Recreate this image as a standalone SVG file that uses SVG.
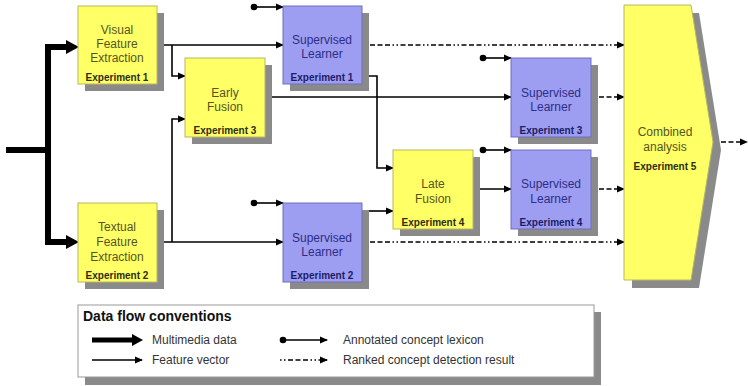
<svg xmlns="http://www.w3.org/2000/svg" width="748" height="386" viewBox="0 0 748 386">
<style>
.sh{fill:#8a8a8a}
.y{fill:#ffff66;stroke:#b8b860;stroke-width:1}
.b{fill:#9d9df2;stroke:#6e6ebd;stroke-width:1}
.ty{font-family:"Liberation Sans",Arial,sans-serif;font-size:12px;fill:#55551f;text-anchor:middle}
.tb{font-family:"Liberation Sans",Arial,sans-serif;font-size:12px;fill:#2e2e86;text-anchor:middle}
.ey{font-family:"Liberation Sans",Arial,sans-serif;font-size:10px;font-weight:bold;fill:#2d2d10;text-anchor:middle}
.eb{font-family:"Liberation Sans",Arial,sans-serif;font-size:10px;font-weight:bold;fill:#1c1c66;text-anchor:middle}
.fv{fill:none;stroke:#000;stroke-width:1.6;marker-end:url(#arr)}
.lx{fill:none;stroke:#000;stroke-width:1.6;marker-start:url(#dot);marker-end:url(#arr)}
.rk{fill:none;stroke:#000;stroke-width:1.6;stroke-dasharray:1.5 2.5 1.5 2.5 5 2.5 5 2.5 5 2.5;marker-end:url(#arr)}
.th{fill:none;stroke:#000;stroke-width:6}
.lg{font-family:"Liberation Sans",Arial,sans-serif;font-size:12px;fill:#333}
</style>
<defs>
<marker id="arr" markerUnits="userSpaceOnUse" markerWidth="8" markerHeight="8" refX="7" refY="4" orient="auto">
<path d="M0,0.5 L8,4 L0,7.5 z" fill="#000"/>
</marker>
<marker id="dot" markerUnits="userSpaceOnUse" markerWidth="8" markerHeight="8" refX="4" refY="4" orient="auto">
<circle cx="4" cy="4" r="3.3" fill="#000"/>
</marker>
</defs>

<g id="connectors">
<path class="th" d="M6,150 H48 V47 H68"/>
<polygon points="66,40 79,47 66,54" fill="#000"/>
<path class="th" d="M48,150 V242 H68"/>
<polygon points="66,235 79,242 66,249" fill="#000"/>
<path class="fv" d="M157,45 H283"/>
<path class="fv" d="M172,45 V76 H185"/>
<path class="fv" d="M157,242 H283"/>
<path class="fv" d="M172,242 V119 H185"/>
<path class="fv" d="M265,97 H511"/>
<path class="fv" d="M362,76 H377 V168 H393"/>
<path class="fv" d="M362,211 H393"/>
<path class="fv" d="M473,189 H511"/>
<path class="lx" d="M254,7 H283"/>
<path class="lx" d="M254,203 H283"/>
<path class="lx" d="M483,58 H511"/>
<path class="lx" d="M483,150 H511"/>
<path class="rk" d="M362,45 H624"/>
<path class="rk" d="M591,97 H624"/>
<path class="rk" d="M591,189 H624"/>
<path class="rk" d="M362,242 H624"/>
<path class="rk" d="M713,142 H747"/>
</g>

<g id="visual">
<rect class="sh" x="85" y="13" width="79" height="78"/>
<rect class="y" x="78" y="6" width="79" height="78"/>
<text class="ty" x="117" y="34">Visual</text>
<text class="ty" x="117" y="48">Feature</text>
<text class="ty" x="117" y="62">Extraction</text>
<text class="ey" x="117" y="81">Experiment 1</text>
</g>

<g id="textual">
<rect class="sh" x="85" y="210" width="79" height="79"/>
<rect class="y" x="78" y="203" width="79" height="79"/>
<text class="ty" x="117" y="231">Textual</text>
<text class="ty" x="117" y="246">Feature</text>
<text class="ty" x="117" y="261">Extraction</text>
<text class="ey" x="117" y="279">Experiment 2</text>
</g>

<g id="early">
<rect class="sh" x="192" y="65" width="80" height="79"/>
<rect class="y" x="185" y="58" width="80" height="79"/>
<text class="ty" x="225" y="97">Early</text>
<text class="ty" x="225" y="111">Fusion</text>
<text class="ey" x="225" y="134">Experiment 3</text>
</g>

<g id="sl1">
<rect class="sh" x="290" y="13" width="79" height="78"/>
<rect class="b" x="283" y="6" width="79" height="78"/>
<text class="tb" x="322" y="44">Supervised</text>
<text class="tb" x="322" y="58">Learner</text>
<text class="eb" x="322" y="81">Experiment 1</text>
</g>

<g id="sl2">
<rect class="sh" x="290" y="210" width="79" height="79"/>
<rect class="b" x="283" y="203" width="79" height="79"/>
<text class="tb" x="322" y="242">Supervised</text>
<text class="tb" x="322" y="256">Learner</text>
<text class="eb" x="322" y="279">Experiment 2</text>
</g>

<g id="sl3">
<rect class="sh" x="518" y="65" width="80" height="79"/>
<rect class="b" x="511" y="58" width="80" height="79"/>
<text class="tb" x="551" y="97">Supervised</text>
<text class="tb" x="551" y="111">Learner</text>
<text class="eb" x="551" y="134">Experiment 3</text>
</g>

<g id="late">
<rect class="sh" x="400" y="157" width="80" height="79"/>
<rect class="y" x="393" y="150" width="80" height="79"/>
<text class="ty" x="433" y="188">Late</text>
<text class="ty" x="433" y="203">Fusion</text>
<text class="ey" x="433" y="226">Experiment 4</text>
</g>

<g id="sl4">
<rect class="sh" x="518" y="157" width="80" height="79"/>
<rect class="b" x="511" y="150" width="80" height="79"/>
<text class="tb" x="551" y="188">Supervised</text>
<text class="tb" x="551" y="203">Learner</text>
<text class="eb" x="551" y="226">Experiment 4</text>
</g>

<g id="combined">
<polygon class="sh" points="632,13 699,13 721,150 699,288 632,288"/>
<polygon class="y" points="624,5 691,5 713,142 691,280 624,280"/>
<text class="ty" x="665" y="136">Combined</text>
<text class="ty" x="665" y="151">analysis</text>
<text class="ey" x="665" y="170">Experiment 5</text>
</g>

<g id="legend">
<rect class="sh" x="85" y="312" width="516" height="73"/>
<rect x="78" y="305" width="516" height="72" fill="#fff" stroke="#999" stroke-width="1"/>
<text x="83" y="321" font-family="Liberation Sans, Arial, sans-serif" font-size="14" font-weight="bold" fill="#111">Data flow conventions</text>
<line x1="92" y1="340" x2="134" y2="340" stroke="#000" stroke-width="5"/>
<polygon points="132,334 143,340 132,346" fill="#000"/>
<text class="lg" x="152" y="344">Multimedia data</text>
<path class="fv" d="M92,360 H142"/>
<text class="lg" x="152" y="364">Feature vector</text>
<path class="lx" d="M283,340 H327"/>
<text class="lg" x="343" y="344">Annotated concept lexicon</text>
<path class="rk" d="M280,360 H327"/>
<text class="lg" x="343" y="364">Ranked concept detection result</text>
</g>
</svg>
